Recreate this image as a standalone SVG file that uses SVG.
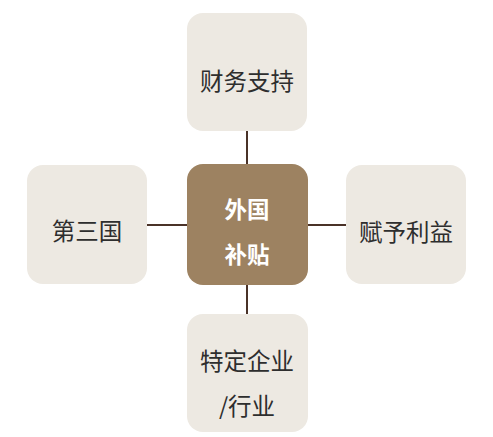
<svg xmlns="http://www.w3.org/2000/svg" width="493" height="437" viewBox="0 0 493 437">
<style>
.box{fill:#ede9e2}
.center{fill:#9d8261}
.t{font-family:"Noto Sans CJK SC","Noto Sans",sans-serif;font-size:23.5px;fill:#2e2e2e;text-anchor:middle;dominant-baseline:central}
.tc{font-family:"Noto Sans CJK SC","Noto Sans",sans-serif;font-size:22.5px;font-weight:bold;fill:#ffffff;text-anchor:middle;dominant-baseline:central}
.ln{stroke:#4a3228;stroke-width:2;fill:none}
</style>
<rect width="493" height="437" fill="#ffffff"/>
<g id="connectors">
<line class="ln" x1="247" y1="131" x2="247" y2="164"/>
<line class="ln" x1="247" y1="285" x2="247" y2="314"/>
<line class="ln" x1="147" y1="225" x2="187" y2="225"/>
<line class="ln" x1="308" y1="225" x2="346" y2="225"/>
</g>
<g id="top">
<rect class="box" x="187" y="13" width="120" height="118" rx="16"/>
<text class="t" x="247" y="80">财务支持</text>
</g>
<g id="left">
<rect class="box" x="27" y="165" width="120" height="119" rx="16"/>
<text class="t" x="87" y="230">第三国</text>
</g>
<g id="right">
<rect class="box" x="346" y="165" width="120" height="119" rx="16"/>
<text class="t" x="406" y="231">赋予利益</text>
</g>
<g id="bottom">
<rect class="box" x="187" y="314" width="121" height="118" rx="16"/>
<text class="t" x="247" y="360">特定企业</text>
<text class="t" x="247" y="405">/行业</text>
</g>
<g id="center">
<rect class="center" x="187" y="164" width="121" height="121" rx="16"/>
<text class="tc" x="247" y="208">外国</text>
<text class="tc" x="247" y="253">补贴</text>
</g>
</svg>
